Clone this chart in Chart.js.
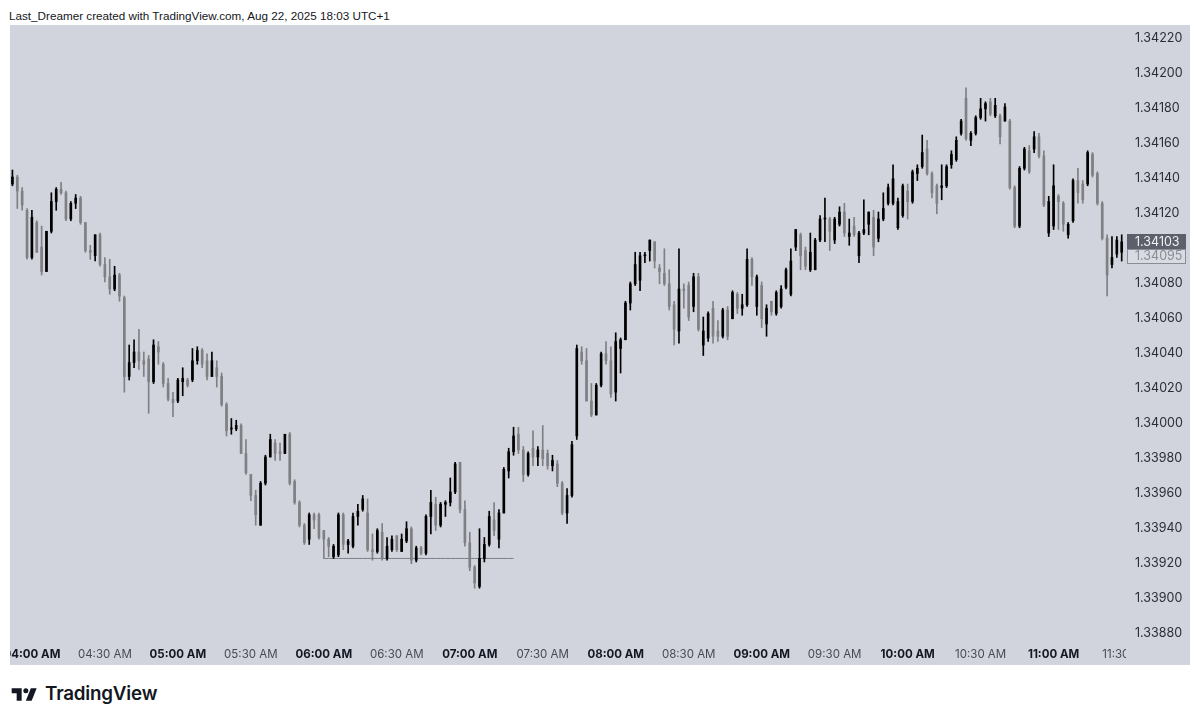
<!DOCTYPE html>
<html>
<head>
<meta charset="utf-8">
<title>TradingView snapshot</title>
<script src="https://cdn.jsdelivr.net/npm/chart.js@4/dist/chart.umd.min.js"></script>
<style>
  html, body { margin: 0; padding: 0; background: #fff; }
  body { width: 1200px; height: 721px; position: relative; overflow: hidden; font-family: Inter, sans-serif; }
  #head { position: absolute; left: 9px; top: 8px; font-family: "Liberation Sans", sans-serif; font-size: 11.7px; line-height: 16px; color: #131722; white-space: nowrap; }
  #pane { position: absolute; left: 10px; top: 25px; }
  #logo { position: absolute; left: 10px; top: 684px; display: flex; align-items: center; color: #131722; }
  #logo svg { width: 30px; height: 19px; display: block; }
  #logo span { font-size: 18.8px; font-weight: 600; margin-left: 5px; line-height: 20px; letter-spacing: -0.2px; }
</style>
</head>
<body>
<div id="head">Last_Dreamer created with TradingView.com, Aug 22, 2025 18:03 UTC+1</div>
<canvas id="pane" width="1180" height="640"></canvas>
<div id="logo">
  <svg viewBox="0 3 36 21" fill="#131722"><path d="M14 6H2v6h6v9h6V6Zm12 15h-7l6-15h7l-6 15Zm-7-9a3 3 0 1 0 0-6 3 3 0 0 0 0 6Z"/></svg>
  <span>TradingView</span>
</div>
<script>
// two minute bars, prices stored as 1.xxxxx without the leading 1. (34136 = 1.34136)
const opens = [34136,34140,34132,34121,34094,34114,34100,34086,34109,34126,34133,34131,34116,34125,34128,34114,34098,34095,34107,34090,34083,34076,34084,34071,34026,34034,34040,34035,34036,34023,34043,34033,34022,34013,34012,34023,34024,34024,34035,34041,34035,34026,34031,34026,34010,33996,33996,33998,33982,33970,33958,33941,33965,33980,33988,33983,33982,33993,33966,33954,33941,33933,33947,33947,33938,33933,33923,33924,33947,33930,33929,33946,33950,33948,33927,33926,33937,33922,33927,33935,33926,33932,33939,33921,33928,33925,33946,33953,33941,33953,33954,33960,33977,33950,33931,33917,33906,33922,33930,33944,33933,33948,33972,33983,33993,33984,33970,33985,33980,33984,33982,33975,33976,33965,33948,33958,33992,34040,34035,34012,34004,34021,34039,34035,34017,34042,34047,34068,34079,34081,34095,34098,34103,34088,34085,34079,34067,34052,34076,34078,34066,34083,34044,34048,34065,34052,34049,34064,34059,34073,34065,34067,34093,34066,34078,34056,34069,34062,34066,34077,34073,34100,34107,34098,34087,34087,34104,34116,34116,34104,34113,34120,34106,34112,34095,34108,34113,34117,34105,34116,34125,34125,34111,34118,34132,34126,34142,34146,34156,34142,34135,34134,34135,34147,34150,34165,34185,34161,34165,34174,34179,34183,34175,34175,34172,34172,34134,34112,34145,34155,34156,34163,34152,34108,34112,34129,34125,34107,34115,34138,34136,34136,34153,34142,34125,34105,34090,34096,34097];
const highs = [34144,34141,34134,34122,34121,34115,34112,34109,34131,34134,34137,34132,34126,34130,34129,34114,34101,34107,34108,34094,34093,34089,34085,34072,34044,34047,34053,34040,34038,34047,34046,34034,34025,34017,34025,34031,34025,34042,34043,34042,34039,34040,34035,34028,34011,34002,34001,33999,33990,33970,33961,33966,33981,33993,33990,33988,33993,33994,33967,33955,33942,33948,33948,33948,33938,33934,33930,33948,33948,33933,33948,33953,33958,33956,33936,33939,33942,33934,33935,33935,33936,33943,33940,33929,33929,33947,33961,33957,33954,33955,33968,33977,33977,33955,33937,33918,33939,33934,33949,33954,33950,33974,33985,33997,33997,33986,33983,33995,33986,33998,33984,33981,33978,33966,33962,33989,34044,34043,34042,34022,34022,34040,34046,34043,34051,34048,34069,34080,34097,34097,34097,34104,34103,34090,34099,34087,34069,34099,34079,34080,34085,34085,34060,34063,34069,34058,34065,34066,34075,34074,34073,34099,34094,34084,34080,34067,34069,34075,34078,34088,34099,34110,34108,34100,34108,34105,34118,34128,34117,34117,34123,34125,34116,34117,34109,34127,34120,34121,34120,34131,34136,34147,34128,34136,34136,34144,34147,34164,34161,34143,34136,34147,34147,34155,34163,34173,34191,34166,34175,34185,34183,34185,34185,34176,34182,34173,34135,34146,34157,34158,34166,34165,34155,34129,34147,34130,34126,34114,34139,34145,34138,34155,34154,34143,34126,34107,34106,34106,34107];
const lows = [34135,34122,34121,34093,34093,34097,34084,34086,34108,34121,34130,34115,34115,34122,34113,34097,34093,34092,34089,34080,34073,34075,34069,34017,34024,34031,34030,34026,34005,34022,34033,34020,34012,34003,34011,34015,34020,34023,34033,34031,34024,34026,34020,34009,33992,33993,33995,33982,33970,33955,33941,33941,33964,33980,33978,33978,33982,33964,33953,33940,33930,33930,33939,33933,33922,33923,33922,33923,33927,33925,33928,33941,33949,33926,33921,33925,33921,33921,33926,33926,33926,33931,33919,33920,33924,33924,33936,33938,33940,33946,33952,33959,33948,33929,33915,33905,33905,33920,33929,33935,33928,33948,33968,33981,33982,33966,33969,33975,33975,33975,33973,33972,33963,33947,33942,33957,33990,34033,34012,34003,34004,34020,34033,34014,34012,34028,34047,34064,34078,34075,34091,34092,34088,34079,34078,34064,34044,34045,34065,34058,34063,34052,34038,34046,34045,34046,34048,34047,34059,34062,34061,34066,34078,34061,34054,34049,34061,34061,34065,34076,34072,34098,34087,34087,34086,34087,34103,34103,34098,34102,34112,34106,34101,34106,34091,34107,34107,34095,34103,34115,34124,34124,34110,34117,34116,34125,34138,34145,34141,34128,34119,34127,34134,34145,34149,34164,34161,34158,34164,34173,34172,34175,34174,34159,34172,34133,34111,34111,34144,34142,34154,34151,34123,34106,34110,34110,34109,34105,34114,34125,34125,34135,34140,34124,34104,34072,34088,34094,34092];
const closes = [34140,34132,34124,34094,34117,34097,34086,34109,34126,34133,34131,34116,34125,34128,34114,34098,34097,34107,34090,34083,34076,34084,34072,34026,34034,34040,34035,34033,34023,34044,34040,34022,34013,34011,34024,34025,34021,34035,34041,34033,34026,34035,34026,34010,33995,33996,33998,33982,33971,33958,33947,33965,33980,33990,33982,33982,33993,33965,33954,33941,33931,33947,33944,33934,33933,33929,33929,33947,33930,33932,33946,33949,33956,33927,33926,33938,33922,33929,33933,33927,33933,33939,33921,33928,33925,33946,33954,33941,33953,33954,33960,33976,33950,33931,33917,33908,33922,33930,33946,33938,33948,33973,33983,33992,33984,33970,33982,33980,33984,33979,33975,33978,33965,33948,33958,33987,34042,34035,34012,34004,34021,34039,34035,34016,34046,34047,34068,34079,34090,34095,34095,34104,34092,34086,34079,34066,34053,34076,34075,34060,34083,34053,34052,34062,34049,34049,34064,34049,34074,34065,34067,34093,34083,34083,34059,34065,34063,34074,34076,34087,34092,34110,34095,34089,34097,34104,34116,34116,34109,34116,34120,34108,34108,34107,34108,34110,34120,34100,34116,34122,34134,34139,34126,34135,34126,34143,34145,34154,34142,34131,34125,34135,34146,34153,34161,34172,34162,34165,34174,34179,34182,34176,34181,34163,34180,34134,34112,34145,34156,34143,34163,34152,34124,34126,34135,34126,34113,34113,34138,34131,34127,34154,34141,34125,34105,34084,34094,34104,34103];

const priceTicks = [1.34220,1.34200,1.34180,1.34160,1.34140,1.34120,1.34100,1.34080,1.34060,1.34040,1.34020,1.34000,1.33980,1.33960,1.33940,1.33920,1.33900,1.33880];
const lastPrice = 1.34103;
const otherPrice = 1.34095;
const levelPrice = 1.33922;
const levelFrom = '06:00';
const levelTo = '07:18';

const BG = '#d1d4dc';
const UP = '#000000';
const DOWN = '#7f8084';

// category per bar, 03:52 to 11:30 (the last slot has no bar yet)
const times = [];
for (let m = 3 * 60 + 52; m <= 11 * 60 + 30; m += 2) {
  times.push(String(Math.floor(m / 60)).padStart(2, '0') + ':' + String(m % 60).padStart(2, '0'));
}

const px = v => 1 + v / 1e5;
const colors = opens.map((o, i) => closes[i] >= o ? UP : DOWN);
const isHour = c => !!(c.tick && c.tick.label && c.tick.label.includes(':00'));

// last price tags and the clipped corner of the time axis
const overlay = {
  id: 'overlay',
  beforeDraw(chart) {
    const { ctx, width, height } = chart;
    ctx.save();
    ctx.fillStyle = BG;
    ctx.fillRect(0, 0, width, height);
    ctx.restore();
  },
  afterDraw(chart) {
    const { ctx, scales } = chart;
    ctx.save();
    ctx.fillStyle = BG;
    ctx.fillRect(1116, 616, 64, 24);

    const yA = Math.round(scales.y.getPixelForValue(lastPrice));
    ctx.fillStyle = '#5d606b';
    ctx.fillRect(1117, yA - 8, 59, 15);
    ctx.font = '12.5px Inter, sans-serif';
    ctx.textBaseline = 'middle';
    ctx.fillStyle = '#eef0f3';
    ctx.fillText(lastPrice.toFixed(5), 1125, yA);

    const yB = Math.round(scales.y.getPixelForValue(otherPrice));
    ctx.fillStyle = '#d9dbe2';
    ctx.fillRect(1117, yB - 7, 59, 14);
    ctx.strokeStyle = '#8b8d96';
    ctx.strokeRect(1117.5, yB - 6.5, 58, 14);
    ctx.fillStyle = '#8b8d96';
    ctx.fillText(otherPrice.toFixed(5), 1125, yB);
    ctx.restore();
  }
};

new Chart(document.getElementById('pane'), {
  data: {
    labels: times,
    datasets: [
      {
        type: 'line',
        data: times.map(t => t >= levelFrom && t <= levelTo ? levelPrice : null),
        borderColor: '#7d7f88',
        borderWidth: 1,
        pointRadius: 0,
        spanGaps: false,
        order: 3
      },
      {
        type: 'bar',
        data: highs.map((h, i) => [px(lows[i]), px(h)]),
        backgroundColor: colors,
        barThickness: 1,
        grouped: false,
        order: 2
      },
      {
        type: 'bar',
        data: opens.map((o, i) => [px(o), px(closes[i])]),
        backgroundColor: colors,
        barThickness: 2,
        minBarLength: 1,
        grouped: false,
        order: 1
      }
    ]
  },
  options: {
    responsive: false,
    animation: false,
    devicePixelRatio: 1,
    layout: { padding: 0 },
    plugins: { legend: { display: false }, tooltip: { enabled: false } },
    scales: {
      x: {
        type: 'category',
        grid: { display: false, drawTicks: false },
        border: { display: false },
        // keep the pane edge to edge, labels are allowed to run off it
        afterFit: s => { s.height = 25; s.paddingLeft = 0; s.paddingRight = 0; },
        ticks: {
          autoSkip: false,
          maxRotation: 0,
          minRotation: 0,
          padding: 8,
          callback(v) {
            const t = times[v];
            if (!t || (!t.endsWith(':00') && !t.endsWith(':30'))) return null;
            return t + ' AM';
          },
          color: c => isHour(c) ? '#131722' : '#474a53',
          font: {
            family: 'Inter, sans-serif',
            size: 11.5,
            weight: c => isHour(c) ? '700' : '400'
          }
        }
      },
      y: {
        position: 'right',
        min: 1.338754,
        max: 1.342269,
        grid: { display: false, drawTicks: false },
        border: { display: false },
        afterFit: s => { s.width = 61; s.paddingTop = 0; s.paddingBottom = 0; },
        afterBuildTicks: s => { s.ticks = priceTicks.map(value => ({ value })); },
        ticks: {
          padding: 6,
          labelOffset: 1,
          color: '#2a2e39',
          font: { family: 'Inter, sans-serif', size: 12.5 },
          callback: v => v.toFixed(5)
        }
      }
    }
  },
  plugins: [overlay]
});
</script>
</body>
</html>
